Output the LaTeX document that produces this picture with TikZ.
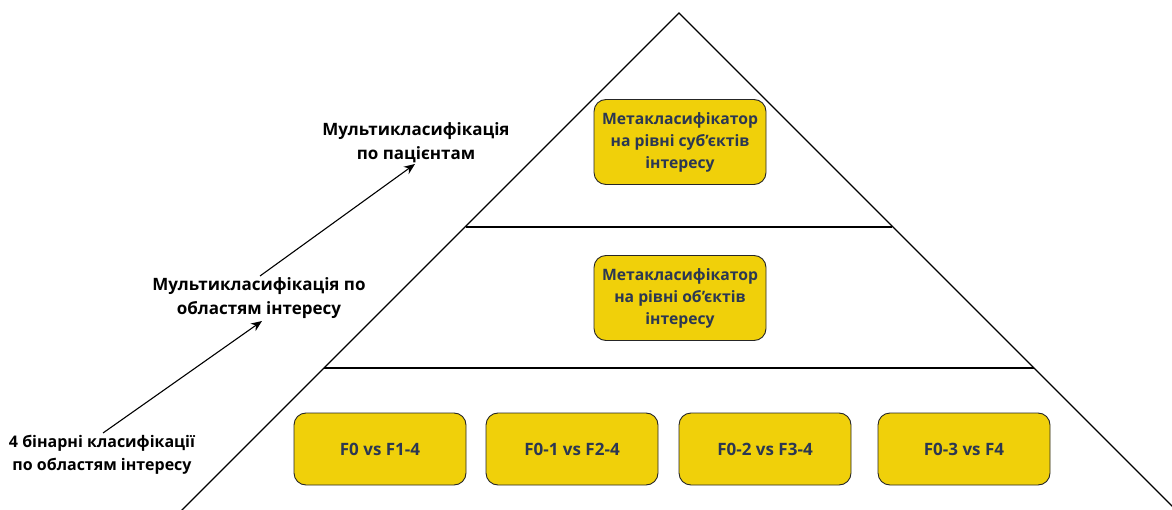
\documentclass[tikz,border=0pt]{standalone}
\usepackage{fontspec}
\setmainfont{Open Sans}
\usetikzlibrary{arrows.meta}
\definecolor{boxfill}{HTML}{F0D00A}
\definecolor{boxtext}{HTML}{2B3752}
\tikzset{
  ybox/.style={draw=black!85, line width=0.9pt, fill=boxfill, rounded corners=12pt,
    text=boxtext, font=\fontsize{15.7}{22}\selectfont\bfseries, align=center,
    inner sep=0pt},
  fbox/.style={ybox, font=\fontsize{17}{22}\selectfont\bfseries},
  lbl/.style={font=\fontsize{17}{24}\selectfont\bfseries, align=center, text=black},
  pyr/.style={line width=1.1pt, black},
  arr/.style={line width=1.1pt, -{Stealth[length=11pt,width=9pt]}}
}
\begin{document}
\begin{tikzpicture}[x=1pt,y=-1pt]
\useasboundingbox (0,0) rectangle (1172,510);
\begin{scope}
\clip (0,0) rectangle (1172,510);
\coordinate (apex) at (679,13);
\coordinate (bl) at (180,512);
\coordinate (br) at (1178,512);
\draw[pyr] (bl) -- (apex) -- (br);
\coordinate (l1a) at (466,227);
\coordinate (l1b) at (892,227);
\coordinate (l2a) at (324,368);
\coordinate (l2b) at (1034,368);
\draw[pyr] (l1a) -- (l1b);
\draw[pyr] (l2a) -- (l2b);
\end{scope}

\node[ybox, minimum width=172pt, minimum height=85pt] (top) at (680,142)
  {Метакласифікатор\\на рівні суб'єктів\\інтересу};
\node[ybox, minimum width=172pt, minimum height=85pt] (mid) at (680,298)
  {Метакласифікатор\\на рівні об'єктів\\інтересу};

\node[fbox, minimum width=172pt, minimum height=72pt] (b1) at (380,449) {F0 vs F1-4};
\node[fbox, minimum width=172pt, minimum height=72pt] (b2) at (572,449) {F0-1 vs F2-4};
\node[fbox, minimum width=172pt, minimum height=72pt] (b3) at (765,449) {F0-2 vs F3-4};
\node[fbox, minimum width=172pt, minimum height=72pt] (b4) at (964,449) {F0-3 vs F4};

\node[lbl] (t1) at (416,143) {Мультикласифікація\\по пацієнтам};
\node[lbl] (t2) at (259,298) {Мультикласифікація по\\областям інтересу};
\node[lbl, font=\fontsize{16}{23}\selectfont\bfseries] (t3) at (102,455) {4 бінарні класифікації\\по областям інтересу};

\coordinate (a1s) at (103,433);
\coordinate (a1e) at (262,321);
\coordinate (a2s) at (260,276);
\coordinate (a2e) at (415,164);
\draw[arr] (a1s) -- (a1e);
\draw[arr] (a2s) -- (a2e);
\end{tikzpicture}
\end{document}
